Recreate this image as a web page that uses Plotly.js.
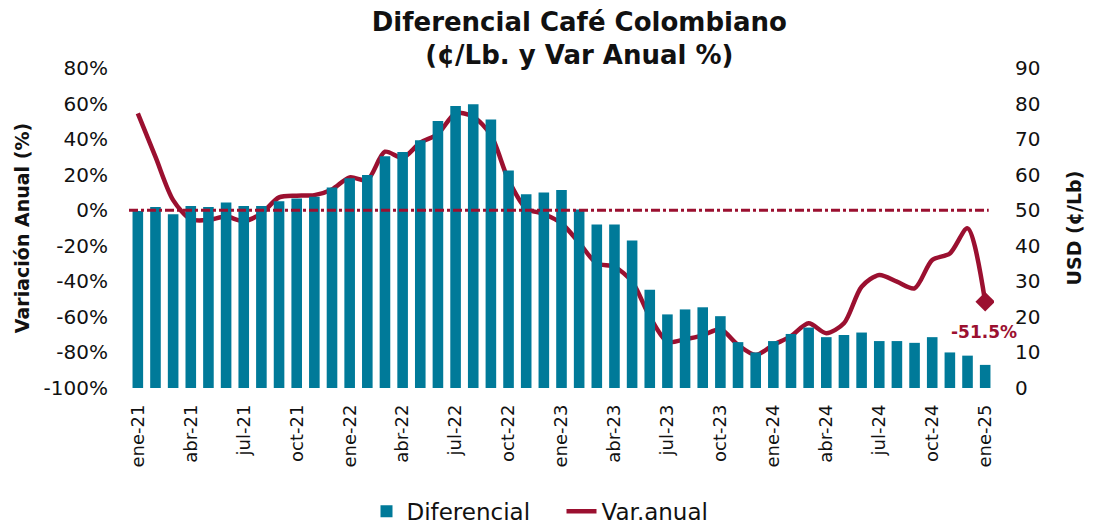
<!DOCTYPE html>
<html>
<head>
<meta charset="utf-8">
<script src="https://cdn.plot.ly/plotly-3.0.1.min.js"></script>
<style>html,body{margin:0;padding:0;background:#fff;}#chart{width:1093px;height:527px;}</style>
</head>
<body>
<div id="chart"></div>
<script>
const months = ["ene-21","feb-21","mar-21","abr-21","may-21","jun-21","jul-21","ago-21","sep-21","oct-21","nov-21","dic-21",
"ene-22","feb-22","mar-22","abr-22","may-22","jun-22","jul-22","ago-22","sep-22","oct-22","nov-22","dic-22",
"ene-23","feb-23","mar-23","abr-23","may-23","jun-23","jul-23","ago-23","sep-23","oct-23","nov-23","dic-23",
"ene-24","feb-24","mar-24","abr-24","may-24","jun-24","jul-24","ago-24","sep-24","oct-24","nov-24","dic-24","ene-25"];
const diferencial = [49.8,50.9,48.9,51.2,50.9,52.2,51.2,51.2,52.5,53.3,53.8,56.4,
59.0,59.9,65.2,66.4,69.7,75.1,79.3,79.8,75.5,61.2,54.5,55.0,
55.7,50.2,46.0,46.0,41.5,27.6,20.7,22.1,22.7,20.2,12.9,10.0,
13.2,15.2,17.0,14.3,14.9,15.6,13.2,13.2,12.7,14.3,10.0,9.1,6.5];
const varAnual = [54.5,30,5.7,-5.1,-5.5,-3.6,-6.1,-1.8,7.2,8.2,8.5,11.7,
18.5,17,32.9,29.5,38,42.9,54.5,52.6,42.3,17,1,-2.1,
-7.4,-18.3,-29.9,-31.8,-40.2,-59.9,-74,-72.6,-70.4,-67,-75.8,-81.4,
-75.8,-70.8,-63.6,-69.2,-63.6,-43,-36.4,-40.2,-43.9,-28,-24.3,-10.2,-51.5];
const tickLabels = months.filter((m,i)=>i%3===0);
const pctTicks = [-100,-80,-60,-40,-20,0,20,40,60,80];
const pctText = pctTicks.map(v=>v+"%");
const usdTicks = [0,10,20,30,40,50,60,70,80,90];

const red = "#9b1030";
const teal = "#007a99";
const font = "DejaVu Sans, sans-serif";
const last = varAnual.length-1;

const traces = [
  {type:"bar", name:"Diferencial", x:months, y:diferencial, yaxis:"y2", marker:{color:teal}},
  {type:"scatter", mode:"lines", name:"Var.anual", x:months, y:varAnual, yaxis:"y",
   line:{color:red, width:4.5, shape:"spline", smoothing:0.8}},
  {type:"scatter", mode:"markers", x:[months[last]], y:[varAnual[last]], yaxis:"y", showlegend:false,
   marker:{symbol:"diamond", size:15, color:red}, hoverinfo:"skip"}
];

const layout = {
  width:1093, height:527,
  margin:{l:129, r:99, t:68, b:139},
  paper_bgcolor:"#fff", plot_bgcolor:"#fff",
  font:{family:font, size:18, color:"#111"},
  title:{text:"<b>Diferencial Café Colombiano<br>(¢/Lb. y Var Anual %)</b>", x:0.53, xanchor:"center",
         yref:"container", y:0.942, yanchor:"top",
         font:{family:font, size:26, color:"#111"}},
  bargap:0.4,
  xaxis:{type:"category", tickmode:"array", tickvals:tickLabels, ticktext:tickLabels, tickangle:-90,
         showgrid:false, showline:false, zeroline:false, ticks:"", tickfont:{size:18}, range:[-0.5,48.5],
         automargin:false, ticklabelstandoff:12},
  yaxis:{range:[-100,80], tickmode:"array", tickvals:pctTicks, ticktext:pctText, showgrid:false, zeroline:false,
         automargin:false, ticklabelstandoff:20,
         title:{text:"<b>Variación Anual (%)</b>", font:{size:19}, standoff:8}, tickfont:{size:20}},
  yaxis2:{range:[0,90], tickmode:"array", tickvals:usdTicks, overlaying:"y", side:"right", showgrid:false, zeroline:false,
          automargin:false, ticklabelstandoff:20,
          title:{text:"<b>USD (¢/Lb)</b>", font:{size:19}, standoff:28}, tickfont:{size:20}},
  shapes:[{type:"line", xref:"x", yref:"y", x0:-0.5, x1:48.2, y0:0, y1:0, line:{color:red, width:3, dash:"dashdot"}, layer:"above"}],
  annotations:[{xref:"x", yref:"y", x:months[last], y:varAnual[last], text:"<b>-51.5%</b>", showarrow:false,
                xanchor:"center", yanchor:"top", yshift:-18, xshift:-1, font:{family:font, size:17, color:red}}],
  legend:{orientation:"h", x:0.5, xanchor:"center", yref:"container", y:0.03, yanchor:"middle",
          font:{size:23}, traceorder:"normal", entrywidth:150},
  showlegend:true
};

Plotly.newPlot("chart", traces, layout, {displayModeBar:false, staticPlot:true});
</script>
</body>
</html>
